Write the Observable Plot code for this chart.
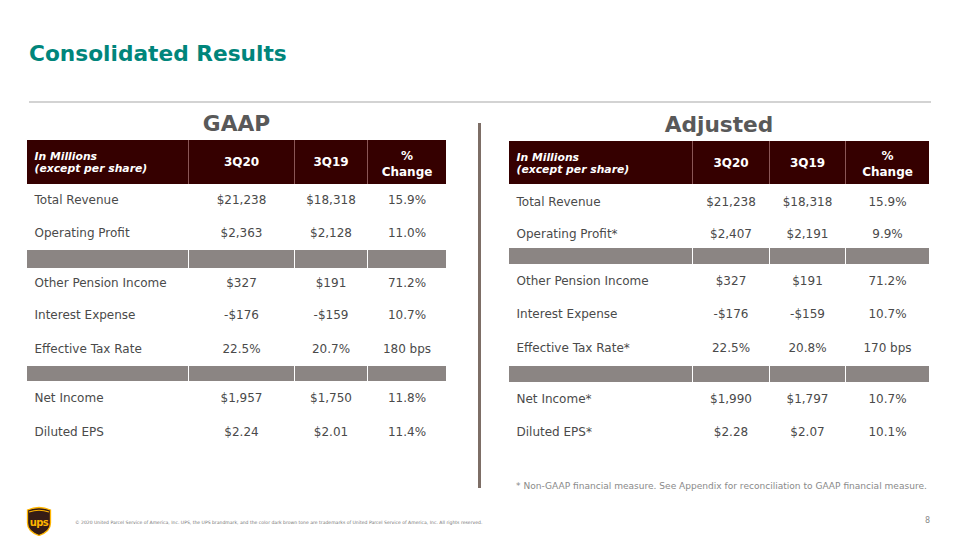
<!DOCTYPE html>
<html><head><meta charset="utf-8">
<script src="https://cdn.jsdelivr.net/npm/d3@7"></script>
<script src="https://cdn.jsdelivr.net/npm/@observablehq/plot@0.6"></script>
<style>
body{margin:0;background:#fff;}
#slide{position:relative;width:960px;height:540px;overflow:hidden;font-family:"DejaVu Sans",Verdana,sans-serif;background:#fff}
.abs{position:absolute;white-space:nowrap}
</style></head><body><div id="slide"></div>
<script>
// ---- data ----
const headers = ["In Millions\n(except per share)", "3Q20", "3Q19", "%\nChange"];
const sections = [2, 3, 2];

const gaapMetrics = ["Total Revenue", "Operating Profit", "Other Pension Income", "Interest Expense", "Effective Tax Rate", "Net Income", "Diluted EPS"];
const gaap3Q20 = ["$21,238", "$2,363", "$327", "-$176", "22.5%", "$1,957", "$2.24"];
const gaap3Q19 = ["$18,318", "$2,128", "$191", "-$159", "20.7%", "$1,750", "$2.01"];
const gaapChange = ["15.9%", "11.0%", "71.2%", "10.7%", "180 bps", "11.8%", "11.4%"];

const adjMetrics = ["Total Revenue", "Operating Profit*", "Other Pension Income", "Interest Expense", "Effective Tax Rate*", "Net Income*", "Diluted EPS*"];
const adj3Q20 = ["$21,238", "$2,407", "$327", "-$176", "22.5%", "$1,990", "$2.28"];
const adj3Q19 = ["$18,318", "$2,191", "$191", "-$159", "20.8%", "$1,797", "$2.07"];
const adjChange = ["15.9%", "9.9%", "71.2%", "10.7%", "170 bps", "10.7%", "10.1%"];

// ---- style / layout ----
const HEAD = "#350000", GAP = "#8b8583", BODY = "#4a4a4a", DIV_HEAD = "#8a5656";
const FONT = "DejaVu Sans, Verdana, sans-serif";

function makeTable(metrics, v1, v2, chg, colW, rowH) {
  const W = d3.sum(colW), H = d3.sum(rowH);
  const xe = [0, ...d3.cumsum(colW)], ye = [0, ...d3.cumsum(rowH)];
  const kinds = ["head"];
  sections.forEach((n, i) => { if (i) kinds.push("gap"); for (let k = 0; k < n; k++) kinds.push("row"); });
  const bands = kinds.map((k, i) => ({k, y1: ye[i], y2: ye[i + 1], ym: (ye[i] + ye[i + 1]) / 2}));
  const cells = bands.flatMap(b => colW.map((w, c) => ({...b, c, x1: xe[c], x2: xe[c + 1]})));
  const rows = bands.filter(b => b.k === "row");
  const texts = rows.flatMap((r, i) => [metrics[i], v1[i], v2[i], chg[i]].map((t, c) => ({
    t, c, y: r.ym, x: c === 0 ? xe[0] + 7 : (xe[c] + xe[c + 1]) / 2
  })));
  const head = bands[0];
  const hdr = headers.map((t, c) => ({t, c, y: head.ym, x: c === 0 ? xe[0] + 7 : (xe[c] + xe[c + 1]) / 2}));
  const divs = bands.filter(b => b.k !== "row").flatMap(b => xe.slice(1, -1).map(x => ({x, y1: b.y1, y2: b.y2, k: b.k})));
  return Plot.plot({
    width: W, height: H, margin: 0,
    x: {domain: [0, W], range: [0, W], axis: null},
    y: {domain: [0, H], range: [0, H], axis: null},
    style: {fontFamily: FONT, background: "transparent", overflow: "visible"},
    marks: [
      Plot.rect(cells.filter(d => d.k === "head"), {x1: "x1", x2: "x2", y1: "y1", y2: "y2", fill: HEAD}),
      Plot.rect(cells.filter(d => d.k === "gap"), {x1: "x1", x2: "x2", y1: "y1", y2: "y2", fill: GAP}),
      Plot.ruleX(divs.filter(d => d.k === "head"), {x: "x", y1: "y1", y2: "y2", stroke: DIV_HEAD, strokeWidth: 1}),
      Plot.ruleX(divs.filter(d => d.k === "gap"), {x: "x", y1: "y1", y2: "y2", stroke: "#ffffff", strokeWidth: 1}),
      Plot.text(hdr.filter(d => d.c === 0), {x: "x", y: "y", text: "t", textAnchor: "start", fill: "#fff", fontWeight: "bold", fontStyle: "italic", fontSize: 10.8, lineHeight: 1.12}),
      Plot.text(hdr.filter(d => d.c === 1 || d.c === 2), {x: "x", y: "y", text: "t", fill: "#fff", fontWeight: "bold", fontSize: 12}),
      Plot.text(hdr.filter(d => d.c === 3), {x: "x", y: "y", text: "t", fill: "#fff", fontWeight: "bold", fontSize: 12, lineHeight: 1.35}),
      Plot.text(texts.filter(d => d.c === 0), {x: "x", y: "y", text: "t", textAnchor: "start", fill: BODY, fontSize: 12}),
      Plot.text(texts.filter(d => d.c > 0), {x: "x", y: "y", text: "t", fill: BODY, fontSize: 12})
    ]
  });
}

const slide = document.getElementById("slide");
function add(el, css) { el.classList.add("abs"); Object.assign(el.style, css); slide.appendChild(el); return el; }
function div(text, css) { const d = document.createElement("div"); d.textContent = text; return add(d, css); }

div("Consolidated Results", {left: "29px", top: "41px", fontSize: "21.7px", fontWeight: "bold", color: "#00857b"});
div("", {left: "29px", top: "101px", width: "902px", height: "2px", background: "#d3d3d3"});
div("GAAP", {left: "27px", width: "419px", textAlign: "center", top: "111px", fontSize: "21.7px", fontWeight: "bold", color: "#595959"});
div("Adjusted", {left: "509px", width: "420px", textAlign: "center", top: "112px", fontSize: "21.7px", fontWeight: "bold", color: "#595959"});
div("", {left: "478px", top: "123px", width: "3px", height: "365px", background: "#7d6e66"});

const g = makeTable(gaapMetrics, gaap3Q20, gaap3Q19, gaapChange, [161, 106, 73, 79], [44, 32, 34, 18, 30, 34, 34, 15, 34, 34]);
add(g, {left: "27px", top: "140px"});
const a = makeTable(adjMetrics, adj3Q20, adj3Q19, adjChange, [183, 77, 76, 84], [43, 36, 28, 16, 33, 33, 36, 16, 34, 32]);
add(a, {left: "509px", top: "141px"});

div("* Non-GAAP financial measure. See Appendix for reconciliation to GAAP financial measure.", {left: "516px", top: "481px", fontSize: "9.05px", color: "#8a8a8a"});
div("© 2020 United Parcel Service of America, Inc. UPS, the UPS brandmark, and the color dark brown tone are trademarks of United Parcel Service of America, Inc. All rights reserved.", {left: "75px", top: "520px", fontSize: "4.55px", color: "#777"});
div("8", {left: "925px", top: "516px", fontSize: "8px", color: "#8a8a8a"});

const ns = "http://www.w3.org/2000/svg";
const logo = document.createElementNS(ns, "svg");
logo.setAttribute("width", "26"); logo.setAttribute("height", "30"); logo.setAttribute("viewBox", "0 0 26 30");
logo.innerHTML = '<path d="M1.5,4 Q13,-1 24.5,4 L24.5,17 Q24.5,25.5 13,29.5 Q1.5,25.5 1.5,17 Z" fill="#351c15" stroke="#ffb500" stroke-width="1.3"/>' +
  '<path d="M3,6 Q13,2.5 23,6" fill="none" stroke="#ffb500" stroke-width="1.2"/>' +
  '<text x="13" y="20" text-anchor="middle" font-family="DejaVu Sans" font-weight="bold" font-size="10" fill="#ffb500" letter-spacing="-0.6">ups</text>';
add(logo, {left: "26px", top: "506px"});
</script></body></html>
